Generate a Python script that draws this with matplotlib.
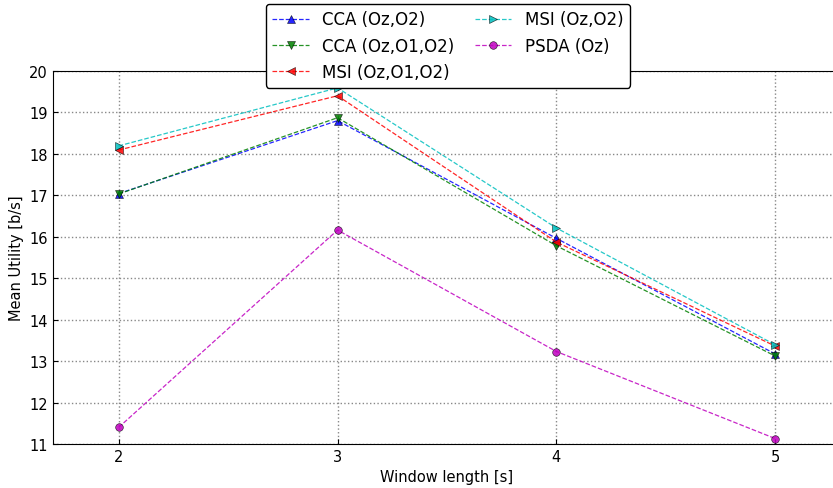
import matplotlib
matplotlib.use("Agg")
import matplotlib.pyplot as plt

window = [2, 3, 4, 5]
cca_oz_o2 = [17.04, 18.80, 15.96, 13.17]
cca_oz_o1_o2 = [17.03, 18.87, 15.78, 13.12]
msi_oz_o1_o2 = [18.09, 19.40, 15.87, 13.36]
msi_oz_o2 = [18.19, 19.59, 16.21, 13.39]
psda_oz = [11.40, 16.16, 13.23, 11.13]

series = [
    ("CCA (Oz,O2)", cca_oz_o2, "b", "^"),
    ("CCA (Oz,O1,O2)", cca_oz_o1_o2, "g", "v"),
    ("MSI (Oz,O1,O2)", msi_oz_o1_o2, "r", "<"),
    ("MSI (Oz,O2)", msi_oz_o2, "c", ">"),
    ("PSDA (Oz)", psda_oz, "m", "o"),
]

fig = plt.figure(figsize=(8.33, 4.89), dpi=100)
ax = fig.add_axes([0.0636, 0.09, 0.946, 0.763])

for name, vals, col, mk in series:
    ax.plot(window, vals, linestyle="--", color=col, marker=mk, linewidth=0.9,
            markersize=5.5, markeredgecolor="k", markeredgewidth=0.4,
            alpha=0.85, label=name)

ax.set_xlim(1.7, 5.3)
ax.set_ylim(11, 20)
ax.set_xticks(window)
ax.set_yticks(range(11, 21))
ax.grid(True, linestyle=":", color="#888888", linewidth=1)
ax.spines["right"].set_visible(False)
ax.tick_params(labelsize=10.5, direction="in", right=False)
ax.set_xlabel("Window length [s]", fontsize=10.5)
ax.set_ylabel("Mean Utility [b/s]", fontsize=10.5)

ax.legend(loc="upper center", bbox_to_anchor=(0.501, 1.18), ncol=2,
          fontsize=12, numpoints=1, framealpha=1, edgecolor="k",
          handlelength=2.2, handletextpad=0.8, columnspacing=1.2,
          borderaxespad=0)

fig.savefig("out.png", dpi=100)
